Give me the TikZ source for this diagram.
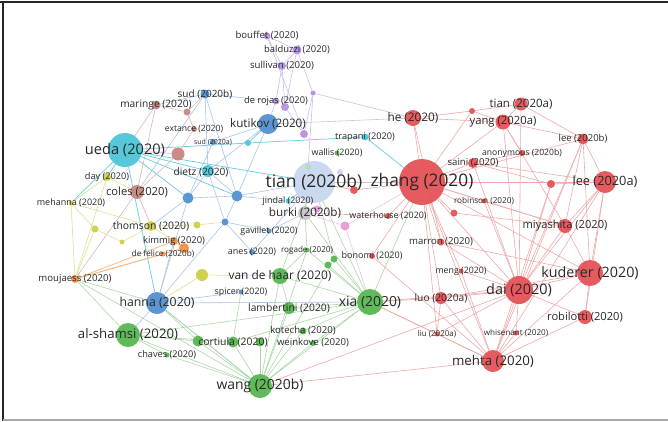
\documentclass[tikz,border=0pt]{standalone}
\usepackage{fontspec}
\setmainfont{Open Sans}
\definecolor{cred}{RGB}{228,78,82}
\definecolor{cgreen}{RGB}{82,182,76}
\definecolor{cblue}{RGB}{78,142,208}
\definecolor{ccyan}{RGB}{72,196,214}
\definecolor{cpurple}{RGB}{180,142,226}
\definecolor{cbrown}{RGB}{196,132,124}
\definecolor{cyellow}{RGB}{206,206,62}
\definecolor{corange}{RGB}{240,142,60}
\definecolor{cpale}{RGB}{198,214,238}
\definecolor{cgray}{RGB}{196,196,196}
\definecolor{cpink}{RGB}{232,150,215}
\definecolor{cpgreen}{RGB}{180,220,180}
\definecolor{labc}{RGB}{40,40,40}
\definecolor{ler}{RGB}{240,168,168}
\definecolor{leg}{RGB}{172,216,166}
\definecolor{leb}{RGB}{165,198,232}
\definecolor{lec}{RGB}{110,208,224}
\definecolor{lep}{RGB}{205,188,236}
\definecolor{leo}{RGB}{245,185,132}
\definecolor{ley}{RGB}{224,224,145}
\definecolor{lebr}{RGB}{218,184,180}
\definecolor{legr}{RGB}{200,200,200}
\pgfdeclarelayer{bg}
\pgfsetlayers{bg,main}
\begin{document}
\begin{tikzpicture}[x=1pt,y=-1pt,
  nd/.style={circle, inner sep=0pt, minimum size=#1pt, draw=none, fill opacity=.92},
  lab/.style={font=\fontsize{#1}{#1}\selectfont, text=labc, inner sep=0pt},
  er/.style={draw=ler, line width=.6pt},
  eg/.style={draw=leg, line width=.6pt},
  eb/.style={draw=leb, line width=.6pt},
  ec/.style={draw=lec, line width=.75pt},
  ep/.style={draw=lep, line width=.6pt},
  eo/.style={draw=leo, line width=.75pt},
  ey/.style={draw=ley, line width=.6pt},
  ebr/.style={draw=lebr, line width=.6pt},
  egr/.style={draw=legr, line width=.6pt}]
\useasboundingbox (0,0) rectangle (668,421);

% purple
\node[nd=7, fill=cpurple] (bouffet) at (267,36) {};
\node[nd=9, fill=cpurple] (balduzzi) at (297,50) {};
\node[nd=8, fill=cpurple] (sullivan) at (282,66) {};
\node[nd=7, fill=cpurple] (derojas) at (276,101) {};
\node[nd=8, fill=cpurple] (pdotb) at (285,107) {};
\node[nd=5, fill=cpurple] (pdota) at (313,93) {};
\node[nd=8, fill=cpurple] (pdotc) at (304,134) {};
% blue
\node[nd=9, fill=cblue] (sudb) at (205,94) {};
\node[nd=20, fill=cblue] (kutikov) at (268,124) {};
\node[nd=6, fill=cblue] (suda) at (213,142) {};
\node[nd=11, fill=cblue] (bdota) at (188,198) {};
\node[nd=11, fill=cblue] (bdotb) at (237,196) {};
\node[nd=7, fill=cblue] (bdotc) at (225,222) {};
\node[nd=5, fill=cblue] (gavillet) at (269,231) {};
\node[nd=6, fill=cblue] (anes) at (252,252) {};
\node[nd=5, fill=cblue] (spicer) at (241,292) {};
\node[nd=22, fill=cblue] (hanna) at (157,303) {};
% cyan
\node[nd=34, fill=ccyan] (ueda) at (125,150) {};
\node[nd=6, fill=ccyan] (cdota) at (248,143) {};
\node[nd=12, fill=ccyan] (dietz) at (208,171) {};
\node[nd=7, fill=ccyan] (trapani) at (365,137) {};
\node[nd=5, fill=ccyan] (jindal) at (288,201) {};
% pale / misc
\node[nd=42, fill=cpale] (tianb) at (314,182) {};
\node[nd=14, fill=cgray] (burki) at (305,213) {};
\node[nd=6, fill=cpgreen] (pgdot) at (308,167) {};
\node[nd=6, fill=cpale] (pldot) at (340,172) {};
\node[nd=7, fill=cpink] (pinka) at (317,209) {};
\node[nd=9, fill=cpink] (pinkb) at (345,226) {};
\node[nd=5, fill=cgreen] (wallis) at (337,153) {};
% brown
\node[nd=9, fill=cbrown] (maringe) at (156,105) {};
\node[nd=7, fill=cbrown] (brdota) at (187,112) {};
\node[nd=6, fill=cbrown] (extance) at (194,129) {};
\node[nd=13, fill=cbrown] (brdotb) at (178,154) {};
\node[nd=14, fill=cbrown] (coles) at (137,192) {};
% yellow
\node[nd=8, fill=cyellow] (day) at (107,177) {};
\node[nd=5, fill=cyellow] (mehanna) at (71,203) {};
\node[nd=7, fill=cyellow] (ydota) at (95,229) {};
\node[nd=5, fill=cyellow] (ydotb) at (122,242) {};
\node[nd=10, fill=cyellow] (thomson) at (151,226) {};
\node[nd=7, fill=cyellow] (ydotc) at (197,225) {};
\node[nd=12, fill=cyellow] (ydotd) at (202,275) {};
% orange
\node[nd=8, fill=corange] (kimmig) at (174,241) {};
\node[nd=10, fill=corange] (odot) at (184,248) {};
\node[nd=5, fill=corange] (defelice) at (163,254) {};
\node[nd=8, fill=corange] (moujaess) at (75,279) {};
% green
\node[nd=24, fill=cgreen] (alshamsi) at (128,335) {};
\node[nd=5, fill=cgreen] (chaves) at (167,355) {};
\node[nd=11, fill=cgreen] (gdota) at (198,341) {};
\node[nd=11, fill=cgreen] (cortiula) at (233,342) {};
\node[nd=9, fill=cgreen] (gdotb) at (260,342) {};
\node[nd=24, fill=cgreen] (wang) at (260,386) {};
\node[nd=7, fill=cgreen] (kotecha) at (303,331) {};
\node[nd=6, fill=cgreen] (weinkove) at (313,343) {};
\node[nd=12, fill=cgreen] (lambertini) at (289,308) {};
\node[nd=16, fill=cgreen] (vandehaar) at (280,276) {};
\node[nd=5, fill=cgreen] (rogade) at (307,250) {};
\node[nd=7, fill=cgreen] (gdotc) at (334,259) {};
\node[nd=7, fill=cgreen] (gdotd) at (328,265) {};
\node[nd=26, fill=cgreen] (xia) at (370,302) {};
% red
\node[nd=46, fill=cred] (zhang) at (422,182) {};
\node[nd=16, fill=cred] (he) at (413,118) {};
\node[nd=13, fill=cred] (tiana) at (521,104) {};
\node[nd=15, fill=cred] (yang) at (503,122) {};
\node[nd=6, fill=cred] (rdota) at (472,111) {};
\node[nd=11, fill=cred] (leeb) at (583,139) {};
\node[nd=6, fill=cred] (anonymous) at (522,153) {};
\node[nd=10, fill=cred] (saini) at (473,163) {};
\node[nd=22, fill=cred] (leea) at (605,182) {};
\node[nd=8, fill=cred] (rdotb) at (551,184) {};
\node[nd=5, fill=cred] (robinson) at (484,201) {};
\node[nd=7, fill=cred] (rdotc) at (454,213) {};
\node[nd=6, fill=cred] (waterhouse) at (388,216) {};
\node[nd=8, fill=cred] (rdotd) at (354,190) {};
\node[nd=6, fill=cred] (bonomi) at (372,256) {};
\node[nd=7, fill=cred] (marron) at (441,242) {};
\node[nd=14, fill=cred] (miyashita) at (565,226) {};
\node[nd=26, fill=cred] (kuderer) at (590,273) {};
\node[nd=5, fill=cred] (meng) at (461,271) {};
\node[nd=28, fill=cred] (dai) at (519,290) {};
\node[nd=12, fill=cred] (luo) at (441,298) {};
\node[nd=14, fill=cred] (robilotti) at (585,317) {};
\node[nd=5, fill=cred] (liu) at (437,334) {};
\node[nd=5, fill=cred] (whisenant) at (516,333) {};
\node[nd=22, fill=cred] (mehta) at (493,361) {};

\begin{pgfonlayer}{bg}
\fill[white] (0,0) rectangle (668,421);
\draw[line width=2pt, black!85] (0,2) -- (668,2);
\draw[line width=1.5pt, black!85] (3,2) -- (3,421);
\draw[line width=1.2pt, black!35] (3,420) -- (668,420);
\foreach \a/\b in {bouffet/balduzzi, bouffet/sullivan, balduzzi/sullivan, balduzzi/pdota, sullivan/derojas, sullivan/pdotb, bouffet/pdotc, pdota/pdotc, pdota/burki, derojas/kutikov, pdotb/pdotc, balduzzi/pdotb}
  \draw[ep] (\a) -- (\b);
\foreach \a/\b in {sudb/derojas, sudb/dietz, sudb/bdotb, sudb/maringe, kutikov/dietz, kutikov/bdotb, kutikov/suda, dietz/bdota, dietz/bdotb, dietz/bdotc, bdota/bdotb, bdota/hanna, bdotb/bdotc, bdotb/tianb, bdotb/jindal, bdotc/gavillet, bdotc/hanna, bdotc/anes, hanna/spicer, hanna/xia, hanna/wang, hanna/alshamsi, hanna/kimmig, bdota/thomson, anes/tianb, gavillet/burki, sudb/coles, suda/bdota}
  \draw[eb] (\a) -- (\b);
\foreach \a/\b in {ueda/dietz, ueda/cdota, cdota/trapani, trapani/zhang, ueda/bdotb, ueda/bdota, ueda/day, ueda/mehanna, ueda/hanna, ueda/tianb, kutikov/cdota, jindal/tianb}
  \draw[ec] (\a) -- (\b);
\foreach \a/\b in {kutikov/he, pdota/he, tianb/zhang}
  \draw[egr] (\a) -- (\b);
\foreach \a/\b in {maringe/brdota, maringe/coles, brdota/extance, extance/brdotb, brdotb/coles, brdotb/ueda, coles/thomson, coles/moujaess, maringe/ueda, brdota/sudb}
  \draw[ebr] (\a) -- (\b);
\foreach \a/\b in {day/mehanna, day/moujaess, mehanna/moujaess, mehanna/ydota, mehanna/thomson, ydota/moujaess, ydota/ydotb, ydotb/thomson, thomson/ydotc, ydotc/bdotc, thomson/kimmig, ydotd/hanna, day/coles, ydotd/vandehaar}
  \draw[ey] (\a) -- (\b);
\foreach \a/\b in {moujaess/kimmig, moujaess/odot, moujaess/defelice, kimmig/odot, defelice/odot}
  \draw[eo] (\a) -- (\b);
\foreach \a/\b in {moujaess/alshamsi, moujaess/wang, moujaess/hanna, wang/xia, wang/alshamsi, wang/cortiula, wang/gdota, wang/gdotb, wang/vandehaar, wang/lambertini, wang/kotecha, wang/weinkove, wang/chaves, wang/rogade, wang/gdotc, wang/hanna, xia/vandehaar, xia/lambertini, xia/cortiula, xia/zhang, xia/tianb, xia/rogade, xia/gdotc, xia/gdotd, xia/kotecha, xia/weinkove, xia/alshamsi, xia/burki, alshamsi/cortiula, alshamsi/gdota, alshamsi/chaves, vandehaar/rogade, vandehaar/tianb, vandehaar/lambertini, rogade/burki, gdotc/tianb, cortiula/spicer, gdota/hanna}
  \draw[eg] (\a) -- (\b);
\foreach \a/\b in {pinka/burki, pinkb/burki, pinkb/zhang, pinkb/xia}
  \draw[draw=cpink!60, line width=.6pt] (\a) -- (\b);
\foreach \a/\b in {wang/mehta, wang/dai, xia/dai, xia/luo, xia/mehta, liu/xia, zhang/he, zhang/saini, zhang/dai, zhang/mehta, zhang/leea, zhang/yang, zhang/robinson, zhang/waterhouse, zhang/marron, zhang/luo, zhang/kuderer, zhang/miyashita, zhang/meng, zhang/liu, zhang/rdotd, zhang/rdotc, zhang/bonomi, zhang/leeb, zhang/rdota, he/rdota, he/yang, he/marron, rdota/tiana, rdota/yang, tiana/yang, tiana/leeb, tiana/dai, yang/leeb, yang/miyashita, yang/dai, leeb/leea, leeb/miyashita, leeb/kuderer, leeb/dai, leeb/mehta, anonymous/saini, saini/leea, saini/dai, rdotb/leea, rdotb/dai, rdotb/mehta, rdotb/saini, leea/kuderer, leea/robilotti, leea/mehta, leea/dai, leea/miyashita, dai/kuderer, dai/mehta, dai/robilotti, dai/luo, dai/whisenant, dai/miyashita, dai/meng, dai/robinson, dai/marron, kuderer/mehta, kuderer/robilotti, kuderer/miyashita, kuderer/luo, kuderer/marron, mehta/liu, mehta/robilotti, mehta/whisenant, mehta/luo, mehta/meng, liu/luo, liu/dai, robinson/miyashita, rdotc/miyashita, bonomi/mehta, rdotd/tianb, waterhouse/burki, anonymous/yang}
  \draw[er] (\a) -- (\b);
\end{pgfonlayer}

% labels
\node[lab=9.6] (l-bouffet) at (bouffet) {bouffet (2020)};
\node[lab=9.4] (l-balduzzi) at (balduzzi) {balduzzi (2020)};
\node[lab=9.6] (l-sullivan) at (sullivan) {sullivan (2020)};
\node[lab=9.3] (l-derojas) at (276,101) {de rojas (2020)};
\node[lab=11.7] (l-kutikov) at (kutikov) {kutikov (2020)};
\node[lab=10] (l-sudb) at (sudb) {sud (2020b)};
\node[lab=7] (l-suda) at (suda) {sud (2020a)};
\node[lab=10.2] (l-maringe) at (maringe) {maringe (2020)};
\node[lab=8.6] (l-extance) at (extance) {extance (2020)};
\node[lab=14.6] (l-ueda) at (ueda) {ueda (2020)};
\node[lab=10.2] (l-dietz) at (201,172) {dietz (2020)};
\node[lab=9.2] (l-day) at (day) {day (2020)};
\node[lab=11.2] (l-coles) at (coles) {coles (2020)};
\node[lab=9] (l-mehanna) at (mehanna) {mehanna (2020)};
\node[lab=10.4] (l-thomson) at (thomson) {thomson (2020)};
\node[lab=9.4] (l-kimmig) at (kimmig) {kimmig (2020)};
\node[lab=8.2] (l-defelice) at (defelice) {de felice (2020b)};
\node[lab=9.6] (l-moujaess) at (moujaess) {moujaess (2020)};
\node[lab=12.3] (l-hanna) at (hanna) {hanna (2020)};
\node[lab=13.2] (l-alshamsi) at (alshamsi) {al-shamsi (2020)};
\node[lab=9.2] (l-chaves) at (chaves) {chaves (2020)};
\node[lab=10.4] (l-cortiula) at (cortiula) {cortiula (2020)};
\node[lab=13.9] (l-wang) at (wang) {wang (2020b)};
\node[lab=9.6] (l-kotecha) at (kotecha) {kotecha (2020)};
\node[lab=9.6] (l-weinkove) at (weinkove) {weinkove (2020)};
\node[lab=10.3] (l-lambertini) at (lambertini) {lambertini (2020)};
\node[lab=11.9] (l-vandehaar) at (vandehaar) {van de haar (2020)};
\node[lab=8.1] (l-rogade) at (rogade) {rogade (2020)};
\node[lab=13.9] (l-xia) at (xia) {xia (2020)};
\node[lab=9] (l-bonomi) at (bonomi) {bonomi (2020)};
\node[lab=8.9] (l-gavillet) at (gavillet) {gavillet (2020)};
\node[lab=9] (l-anes) at (anes) {anes (2020)};
\node[lab=8.9] (l-jindal) at (jindal) {jindal (2020)};
\node[lab=8.9] (l-spicer) at (spicer) {spicer (2020)};
\node[lab=17.5] (l-tianb) at (tianb) {tian (2020b)};
\node[lab=11.7] (l-burki) at (burki) {burki (2020b)};
\node[lab=9.2] (l-trapani) at (trapani) {trapani (2020)};
\node[lab=8.9] (l-wallis) at (wallis) {wallis (2020)};
\node[lab=17.3] (l-zhang) at (zhang) {zhang (2020)};
\node[lab=11.8] (l-he) at (he) {he (2020)};
\node[lab=11.5] (l-tiana) at (tiana) {tian (2020a)};
\node[lab=11.3] (l-yang) at (yang) {yang (2020a)};
\node[lab=9.5] (l-leeb) at (leeb) {lee (2020b)};
\node[lab=8.6] (l-anonymous) at (anonymous) {anonymous (2020b)};
\node[lab=9.6] (l-saini) at (saini) {saini (2020)};
\node[lab=12.8] (l-leea) at (leea) {lee (2020a)};
\node[lab=8.2] (l-robinson) at (robinson) {robinson (2020)};
\node[lab=8.9] (l-waterhouse) at (waterhouse) {waterhouse (2020)};
\node[lab=9.6] (l-marron) at (marron) {marron (2020)};
\node[lab=11.1] (l-miyashita) at (miyashita) {miyashita (2020)};
\node[lab=14.3] (l-kuderer) at (kuderer) {kuderer (2020)};
\node[lab=8.8] (l-meng) at (meng) {meng (2020)};
\node[lab=14.4] (l-dai) at (dai) {dai (2020)};
\node[lab=10.2] (l-luo) at (luo) {luo (2020a)};
\node[lab=11.1] (l-robilotti) at (robilotti) {robilotti (2020)};
\node[lab=8] (l-liu) at (liu) {liu (2020a)};
\node[lab=8.1] (l-whisenant) at (whisenant) {whisenant (2020)};
\node[lab=13.3] (l-mehta) at (mehta) {mehta (2020)};
\end{tikzpicture}
\end{document}
